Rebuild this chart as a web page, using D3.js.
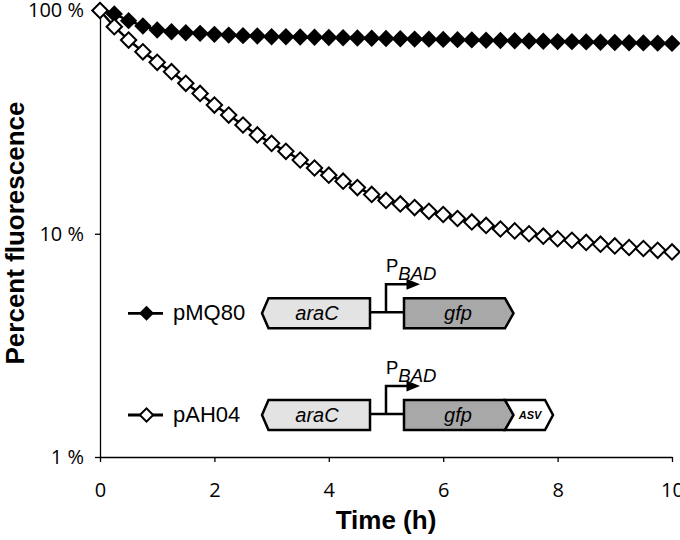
<!DOCTYPE html>
<html>
<head>
<meta charset="utf-8">
<script src="https://cdn.jsdelivr.net/npm/d3@7"></script>
<style>
  body { margin: 0; background: #fff; }
</style>
</head>
<body>
<svg id="chart" width="680" height="540"></svg>
<script>
// Time points (h), one reading every 15 min
const hours = [
    0, 0.25, 0.5, 0.75, 1, 1.25, 1.5, 1.75, 2, 2.25, 2.5, 2.75, 3, 3.25,
    3.5, 3.75, 4, 4.25, 4.5, 4.75, 5, 5.25, 5.5, 5.75, 6, 6.25, 6.5, 6.75,
    7, 7.25, 7.5, 7.75, 8, 8.25, 8.5, 8.75, 9, 9.25, 9.5, 9.75, 10,
];

// Percent fluorescence, stable GFP
const pMQ80 = [
    100, 96.5, 90.0, 85.2, 81.8, 80.3, 79.5, 79.0, 78.2, 77.6, 77.1, 76.9, 76.3, 76.3,
    76.1, 75.9, 75.7, 75.5, 75.3, 75.1, 74.9, 74.7, 74.5, 74.4, 74.2, 74.0, 73.8, 73.6,
    73.4, 73.2, 73.0, 72.8, 72.6, 72.5, 72.3, 72.1, 71.9, 71.7, 71.6, 71.4, 71.2,
];

// Percent fluorescence, unstable GFP(ASV)
const pAH04 = [
    100, 84.6, 73.7, 65.3, 58.6, 53.2, 47.2, 42.5, 37.7, 34.0, 30.7, 27.7, 25.4, 23.4,
    21.4, 19.7, 18.3, 17.2, 16.1, 15.0, 14.1, 13.6, 13.1, 12.6, 12.2, 11.7, 11.3, 10.9,
    10.5, 10.3, 10.0, 9.75, 9.5, 9.35, 9.14, 8.98, 8.82, 8.68, 8.59, 8.43, 8.29,
];

const xTicks = [0, 2, 4, 6, 8, 10];
const yTicks = [1, 10, 100];

const svg = d3.select("#chart");

const x = d3.scaleLinear().domain([0, 10]).range([100, 672]);
const y = d3.scaleLog().domain([1, 100]).range([457, 10.5]);

const tickFont = "'Open Sans', sans-serif";
const labelFont = "'Liberation Sans', Arial, sans-serif";

// Y axis
const yAxisG = svg.append("g")
    .attr("transform", `translate(${x(0)},0)`)
    .call(d3.axisLeft(y)
        .tickValues(yTicks)
        .tickFormat((d) => d + " %")
        .tickSize(5)
        .tickSizeOuter(0)
        .tickPadding(11));
yAxisG.select(".domain").attr("stroke", "#000").attr("stroke-width", 1.3);
yAxisG.selectAll(".tick line").attr("stroke", "#000").attr("stroke-width", 1.3);
yAxisG.selectAll("text")
    .style("font-family", tickFont)
    .style("font-size", "20px")
    .style("fill", "#000");

// X axis
const xAxisG = svg.append("g")
    .attr("transform", `translate(0,${y(1)})`)
    .call(d3.axisBottom(x)
        .tickValues(xTicks)
        .tickSize(5)
        .tickSizeOuter(0)
        .tickPadding(21));
xAxisG.select(".domain").attr("stroke", "#000").attr("stroke-width", 1.3);
xAxisG.selectAll(".tick line").attr("stroke", "#000").attr("stroke-width", 1.3);
xAxisG.selectAll("text")
    .style("font-family", tickFont)
    .style("font-size", "20px")
    .style("fill", "#000");

// Axis titles
svg.append("text")
    .attr("x", 386).attr("y", 529)
    .attr("text-anchor", "middle")
    .style("font-family", labelFont)
    .style("font-size", "26px")
    .style("font-weight", "bold")
    .text("Time (h)");

svg.append("text")
    .attr("transform", "translate(24,233) rotate(-90)")
    .attr("text-anchor", "middle")
    .style("font-family", labelFont)
    .style("font-size", "26px")
    .style("font-weight", "bold")
    .text("Percent fluorescence");

// Series
const rows = hours.map((h, i) => ({ h, stable: pMQ80[i], unstable: pAH04[i] }));

const diamond = (size) => d3.symbol(d3.symbolSquare, size)();

function drawSeries(key, filled) {
    const line = d3.line()
        .x((d) => x(d.h))
        .y((d) => y(d[key]));
    svg.append("path")
        .datum(rows)
        .attr("fill", "none")
        .attr("stroke", "#000")
        .attr("stroke-width", 2.5)
        .attr("d", line);

    svg.selectAll(".dot-" + key)
        .data(rows)
        .join("path")
        .attr("class", "dot-" + key)
        .attr("d", diamond(filled ? 150 : 118))
        .attr("transform", (d) => `translate(${x(d.h)},${y(d[key])}) rotate(45)`)
        .attr("fill", filled ? "#000" : "#fff")
        .attr("stroke", filled ? "none" : "#000")
        .attr("stroke-width", 2);
}

drawSeries("stable", true);
drawSeries("unstable", false);

// Legend with gene maps
function geneRow(cy, name, filled, withASV) {
    const g = svg.append("g");

    g.append("line")
        .attr("x1", 128).attr("x2", 163)
        .attr("y1", cy).attr("y2", cy)
        .attr("stroke", "#000").attr("stroke-width", 2.8);
    g.append("path")
        .attr("d", diamond(filled ? 112 : 88))
        .attr("transform", `translate(146.5,${cy}) rotate(45)`)
        .attr("fill", filled ? "#000" : "#fff")
        .attr("stroke", filled ? "none" : "#000")
        .attr("stroke-width", 2);
    g.append("text")
        .attr("x", 173).attr("y", cy + 7)
        .style("font-family", labelFont)
        .style("font-size", "22px")
        .text(name);

    // connector and promoter arrow
    g.append("line")
        .attr("x1", 370).attr("x2", 404)
        .attr("y1", cy - 1).attr("y2", cy - 1)
        .attr("stroke", "#000").attr("stroke-width", 2.5);
    g.append("path")
        .attr("d", `M386,${cy - 1}V${cy - 29}H409`)
        .attr("fill", "none")
        .attr("stroke", "#000").attr("stroke-width", 2.5);
    g.append("path")
        .attr("d", `M406.5,${cy - 34.5}L420,${cy - 29}L406.5,${cy - 23.5}Z`)
        .attr("fill", "#000");
    const p = g.append("text")
        .attr("x", 386).attr("y", cy - 41)
        .style("font-family", labelFont)
        .style("font-size", "18.5px");
    p.append("tspan").text("P");
    p.append("tspan")
        .attr("dy", 7.5)
        .style("font-style", "italic")
        .text("BAD");

    // araC (pointing left)
    g.append("path")
        .attr("d", `M262,${cy}L268.5,${cy - 15}H370V${cy + 15}H268.5Z`)
        .attr("fill", "#e3e3e3")
        .attr("stroke", "#000").attr("stroke-width", 2.5);
    g.append("text")
        .attr("x", 317).attr("y", cy + 7)
        .attr("text-anchor", "middle")
        .style("font-family", labelFont)
        .style("font-size", "20px")
        .style("font-style", "italic")
        .text("araC");

    // gfp (pointing right)
    g.append("path")
        .attr("d", `M404,${cy - 15}H505L513.5,${cy}L505,${cy + 15}H404Z`)
        .attr("fill", "#a8a8a8")
        .attr("stroke", "#000").attr("stroke-width", 2.5);
    g.append("text")
        .attr("x", 458).attr("y", cy + 7)
        .attr("text-anchor", "middle")
        .style("font-family", labelFont)
        .style("font-size", "20px")
        .style("font-style", "italic")
        .text("gfp");

    if (withASV) {
        g.append("path")
            .attr("d", `M505,${cy - 15}H545L553,${cy}L545,${cy + 15}H505L513.5,${cy}Z`)
            .attr("fill", "#fff")
            .attr("stroke", "#000").attr("stroke-width", 2.5);
        g.append("text")
            .attr("x", 530).attr("y", cy + 4)
            .attr("text-anchor", "middle")
            .style("font-family", labelFont)
            .style("font-size", "11px")
            .style("font-weight", "bold")
            .style("font-style", "italic")
            .text("ASV");
    }
}

geneRow(313.3, "pMQ80", true, false);
geneRow(415, "pAH04", false, true);
</script>
</body>
</html>
